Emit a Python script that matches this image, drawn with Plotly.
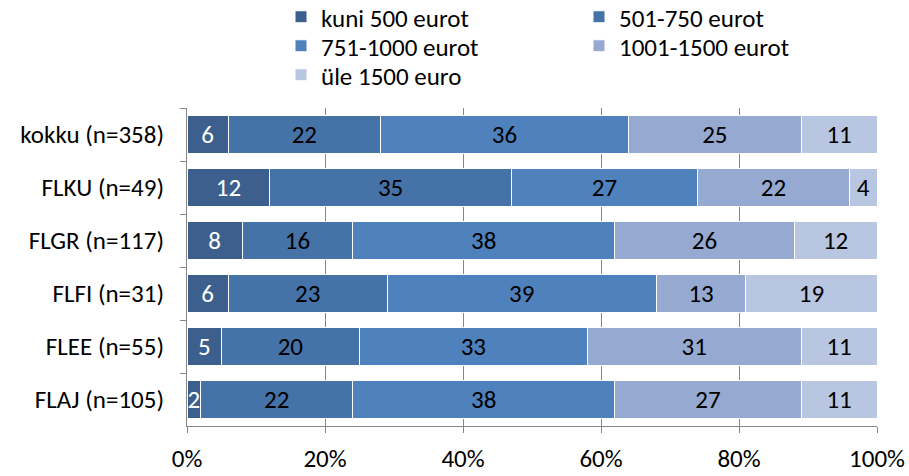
import plotly.graph_objects as go

# Survey groups (top to bottom) and share of respondents per income band, %
groups = ["kokku (n=358)", "FLKU (n=49)", "FLGR (n=117)", "FLFI (n=31)", "FLEE (n=55)", "FLAJ (n=105)"]
bands = ["kuni 500 eurot", "501-750 eurot", "751-1000 eurot", "1001-1500 eurot", "üle 1500 euro"]

kuni_500 = [6, 12, 8, 6, 5, 2]
b501_750 = [22, 35, 16, 23, 20, 22]
b751_1000 = [36, 27, 38, 39, 33, 38]
b1001_1500 = [25, 22, 26, 13, 31, 27]
yle_1500 = [11, 4, 12, 19, 11, 11]

series = [kuni_500, b501_750, b751_1000, b1001_1500, yle_1500]
colors = ["#3C5F8E", "#4572A7", "#4F81BD", "#95A9D1", "#B9C6E1"]
text_colors = ["white", "black", "black", "black", "black"]
# legend rows: two entries per row, last row single
legend_ids = ["legend", "legend", "legend2", "legend2", "legend3"]

x_ticks = [0, 20, 40, 60, 80, 100]
x_tick_labels = ["0%", "20%", "40%", "60%", "80%", "100%"]

FONT = "Carlito, Lato, sans-serif"
FS = 25

fig = go.Figure()
for name, vals, col, tcol, lg in zip(bands, series, colors, text_colors, legend_ids):
    fig.add_trace(go.Bar(
        name=name,
        y=groups,
        x=vals,
        orientation="h",
        marker=dict(color=col, line=dict(color="white", width=1)),
        text=[str(v) for v in vals],
        textposition="inside",
        insidetextanchor="middle",
        textangle=0,
        constraintext="none",
        textfont=dict(color=tcol, size=FS, family=FONT),
        width=0.72,
        hoverinfo="skip",
        legend=lg,
    ))


def legend_row(y_px):
    return dict(
        orientation="h",
        x=281 / 909,
        xref="container",
        xanchor="left",
        y=1 - y_px / 476,
        yref="container",
        yanchor="middle",
        entrywidth=253,
        entrywidthmode="pixels",
        font=dict(size=FS, family=FONT),
        traceorder="normal",
        itemclick=False,
        itemdoubleclick=False,
        bgcolor="rgba(0,0,0,0)",
    )


fig.update_layout(
    barmode="stack",
    width=909,
    height=476,
    margin=dict(l=187, r=32, t=108, b=50),
    paper_bgcolor="white",
    plot_bgcolor="white",
    font=dict(family=FONT, size=FS, color="black"),
    uniformtext=dict(minsize=FS, mode="show"),
    legend=legend_row(17),
    legend2=legend_row(46),
    legend3=legend_row(75),
    showlegend=True,
)

fig.update_xaxes(
    range=[0, 100],
    tickvals=x_ticks,
    ticktext=x_tick_labels,
    showgrid=True,
    gridcolor="#878787",
    gridwidth=1,
    showline=True,
    linecolor="#878787",
    linewidth=1,
    ticks="outside",
    ticklen=6,
    tickcolor="#878787",
    zeroline=False,
    tickfont=dict(size=FS),
    ticklabelstandoff=4,
    automargin=False,
    fixedrange=True,
)

fig.update_yaxes(
    autorange="reversed",
    showline=True,
    linecolor="#878787",
    linewidth=1,
    ticks="outside",
    ticklen=6,
    tickcolor="#878787",
    tickson="boundaries",
    showgrid=False,
    tickfont=dict(size=FS),
    ticklabelstandoff=17,
    automargin=False,
    fixedrange=True,
)

fig.write_html("out.html")
